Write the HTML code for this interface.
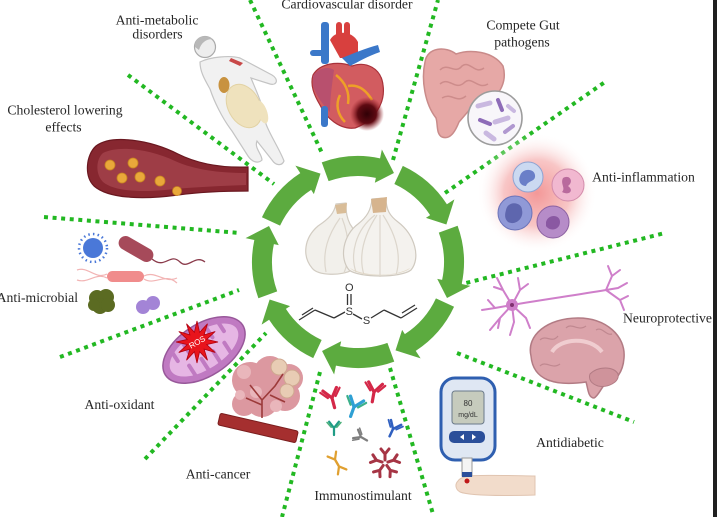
<!DOCTYPE html>
<html><head><meta charset="utf-8"><style>
html,body{margin:0;padding:0;background:#fff;}
svg{display:block;}
text{font-family:"Liberation Serif",serif;}
</style></head><body>
<svg width="717" height="517" viewBox="0 0 717 517" xmlns="http://www.w3.org/2000/svg">
<defs>
 <radialGradient id="glow"><stop offset="0" stop-color="#f39898"/><stop offset="0.55" stop-color="#f8c6c6"/><stop offset="1" stop-color="#ffffff" stop-opacity="0"/></radialGradient>
 <radialGradient id="dark"><stop offset="0" stop-color="#300006"/><stop offset="0.55" stop-color="#5e0a12"/><stop offset="1" stop-color="#9a2028" stop-opacity="0"/></radialGradient>
 <path id="seg" d="M106,0 A106,106 0 0 1 89.89,56.17 L97.5,60.9 L71.34,64.24 L68.7,42.9 L72.93,45.57 A86,86 0 0 0 86,0 Z"/>
</defs>
<rect width="717" height="517" fill="#fff"/>

<!-- dotted radial lines -->
<g stroke="#22b822" stroke-width="4" stroke-dasharray="4 4.6" fill="none">
 <line x1="250" y1="0" x2="322" y2="153"/>
 <line x1="128" y1="75" x2="274" y2="184"/>
 <line x1="44" y1="217" x2="240" y2="233"/>
 <line x1="60" y1="357" x2="239" y2="290"/>
 <line x1="145" y1="459" x2="266" y2="333"/>
 <line x1="320" y1="372" x2="282" y2="517"/>
 <line x1="390" y1="368" x2="433" y2="514"/>
 <line x1="457" y1="353" x2="634" y2="422"/>
 <line x1="458" y1="285" x2="665" y2="233"/>
 <line x1="445" y1="193" x2="605" y2="82"/>
 <line x1="393" y1="160" x2="438" y2="0"/>
</g>

<!-- woman (anti-metabolic) -->
<g>
 <path d="M200,62 C210,57 230,55 240,58 L272,75 C279,79 277,86 270,84 L251,78 C258,95 265,110 266,124 C270,135 280,150 284,161 C282,166 276,166 272,160 L257,141 C254,148 262,154 262,160 C258,164 252,162 248,156 L232,131 C222,118 214,101 210,89 C205,80 200,72 200,62 Z" fill="#f1f1f1" stroke="#c4c4c4" stroke-width="1.2"/>
 <ellipse cx="244" cy="106" rx="16" ry="23" transform="rotate(-28 244 106)" fill="#efe2bd" stroke="#e2d2a4"/>
 <ellipse cx="262" cy="112" rx="5" ry="12" transform="rotate(-20 262 112)" fill="#efe2bd"/>
 <ellipse cx="224" cy="85" rx="5.5" ry="8" fill="#c8923f"/>
 <path d="M231,58 L243,63 L240,66 L229,61 Z" fill="#c84848"/>
 <circle cx="205" cy="47" r="10.5" fill="#ededed" stroke="#aaa" stroke-width="1.2"/>
 <path d="M195,47 C194,36 206,33 214,40 C210,38 202,40 199,50 Z" fill="#b8b8b8"/>
</g>

<!-- heart -->
<g>
 <rect x="321" y="22" width="8" height="42" rx="3" fill="#3b78c9"/>
 <rect x="310" y="50" width="16" height="6" rx="3" fill="#3b78c9"/>
 <rect x="336" y="22" width="6" height="26" rx="3" fill="#d8403e"/>
 <rect x="344" y="22" width="6" height="24" rx="3" fill="#d8403e"/>
 <path d="M330,40 C335,30 352,30 358,42 L358,58 L340,58 Z" fill="#d8403e"/>
 <path d="M313,75 C320,63 338,61 352,66 C366,61 381,68 383,85 C386,105 372,122 355,128 C340,130 326,118 320,105 C314,95 310,85 313,75 Z" fill="#d25c60" stroke="#a8323a" stroke-width="1.2"/>
 <path d="M313,76 C318,68 328,66 334,70 C332,85 330,98 330,112 C322,104 316,95 313,86 Z" fill="#b8506e"/>
 <path d="M342,58 C352,54 366,48 378,45 L380,52 C368,56 358,62 350,66 Z" fill="#3b78c9"/>
 <path d="M336,75 C345,82 350,92 348,104 M348,86 C358,84 366,90 372,100 M340,95 C335,105 338,115 345,122" stroke="#eea028" stroke-width="2.5" fill="none"/>
 <circle cx="367" cy="114" r="17" fill="url(#dark)"/>
 <rect x="321" y="106" width="7" height="21" rx="3" fill="#3b78c9"/>
</g>

<!-- intestine + magnifier -->
<g>
 <path d="M425,62 C427,47 446,46 456,54 C470,49 493,51 503,66 C507,80 501,96 487,100 L471,108 L459,122 C455,132 450,140 442,137 C436,134 438,124 436,118 C425,104 421,80 425,62 Z" fill="#e6a8a6" stroke="#c98b8a" stroke-width="1.5"/>
 <path d="M440,70 C448,62 455,75 462,66 C470,60 475,75 484,68 M440,84 C450,76 455,92 465,82 C472,76 478,90 488,84 M442,98 C452,92 456,104 466,96" stroke="#cd8c8b" stroke-width="1.5" fill="none"/>
 <circle cx="495" cy="118" r="27" fill="#f8f6fa" stroke="#9c9c9c" stroke-width="1.6"/>
 <g stroke-linecap="round" fill="none">
  <line x1="478" y1="106" x2="490" y2="103" stroke="#c9b8e0" stroke-width="5"/>
  <line x1="498" y1="100" x2="502" y2="110" stroke="#8e6cb8" stroke-width="4"/>
  <line x1="480" y1="120" x2="490" y2="124" stroke="#8e6cb8" stroke-width="4"/>
  <line x1="495" y1="122" x2="508" y2="118" stroke="#c9b8e0" stroke-width="5"/>
  <line x1="486" y1="133" x2="494" y2="139" stroke="#c9b8e0" stroke-width="5"/>
  <line x1="505" y1="132" x2="513" y2="126" stroke="#b098d0" stroke-width="4"/>
  <line x1="508" y1="106" x2="514" y2="111" stroke="#c9b8e0" stroke-width="4"/>
 </g>
</g>

<!-- inflammation cells -->
<g>
 <circle cx="537" cy="193" r="60" fill="url(#glow)"/>
 <circle cx="528" cy="177" r="15" fill="#cbd9f1" stroke="#8ea3d2"/>
 <path d="M520,176 C522,168 534,168 535,175 C536,182 528,180 526,186 C520,186 518,180 520,176 Z" fill="#6a7fc8"/>
 <circle cx="568" cy="185" r="16" fill="#f1b8d0" stroke="#d38cab"/>
 <path d="M563,178 C570,174 574,182 568,186 C574,190 570,196 562,192 C566,188 560,184 563,178 Z" fill="#b96a9d"/>
 <circle cx="515" cy="213" r="17" fill="#9099d7" stroke="#6b73b9"/>
 <path d="M506,210 C508,200 522,202 522,210 C524,218 516,226 508,222 C504,218 505,214 506,210 Z" fill="#5e66ae"/>
 <circle cx="553" cy="222" r="16" fill="#b68cc8" stroke="#8b61a1"/>
 <path d="M546,222 C548,214 560,214 560,222 C560,230 550,232 546,226 Z" fill="#8a58a2"/>
</g>

<!-- cholesterol vessel -->
<g>
 <path d="M96,146 C112,134 150,140 178,154 C198,164 222,168 248,167 L248,191 C222,191 200,192 178,195 C148,199 110,200 94,186 C84,176 86,155 96,146 Z" fill="#872730" stroke="#6a1820" stroke-width="1.2"/>
 <path d="M103,153 C118,145 150,149 175,161 C195,170 220,173 246,173 L246,185 C220,186 198,187 175,189 C150,192 116,193 103,182 C95,174 96,159 103,153 Z" fill="#9e3d46"/>
 <g fill="#e9a83a" stroke="#c88420" stroke-width="0.8">
  <circle cx="110" cy="165" r="5"/><circle cx="133" cy="163" r="5"/><circle cx="122" cy="178" r="5"/>
  <circle cx="140" cy="177" r="5"/><circle cx="160" cy="181" r="5"/><circle cx="177" cy="191" r="4.5"/>
 </g>
</g>

<!-- microbes -->
<g>
 <circle cx="93" cy="248" r="10" fill="#4a78d8"/>
 <circle cx="93" cy="248" r="14" fill="none" stroke="#4a78d8" stroke-width="2.5" stroke-dasharray="1.5 3.2"/>
 <g transform="translate(136,249) rotate(30)"><rect x="-19" y="-7" width="38" height="14" rx="7" fill="#a64a5a"/></g>
 <path d="M152,259 C165,270 170,252 180,262 C188,270 195,254 205,262" stroke="#8a3a4a" stroke-width="1.3" fill="none"/>
 <path d="M77,270 C88,266 96,280 107,274 M77,280 C88,284 96,272 107,278 M144,276 C155,270 165,284 177,278 M144,279 C155,286 165,272 177,283" stroke="#f2b4b4" stroke-width="1.2" fill="none"/>
 <rect x="107" y="271" width="37" height="11" rx="5.5" fill="#f08c8c"/>
 <g fill="#5b6b22"><circle cx="97" cy="298" r="8"/><circle cx="106" cy="297" r="8"/><circle cx="100" cy="306" r="8"/><circle cx="108" cy="305" r="7"/><circle cx="94" cy="305" r="6"/></g>
 <circle cx="143" cy="307" r="7" fill="#a384d6"/><circle cx="153" cy="303" r="7" fill="#a384d6"/>
</g>

<!-- mitochondria + ROS -->
<g transform="translate(204,350) rotate(-33)">
 <ellipse rx="46" ry="26" fill="#c07ac2" stroke="#98589a" stroke-width="1.5"/>
 <ellipse rx="39" ry="19" fill="#e6b6e4"/>
 <g stroke="#c07ac2" stroke-width="4" stroke-linecap="round">
  <line x1="-28" y1="-17" x2="-28" y2="-5"/><line x1="-14" y1="-19" x2="-14" y2="-6"/><line x1="0" y1="-19" x2="0" y2="-6"/><line x1="14" y1="-19" x2="14" y2="-6"/><line x1="27" y1="-16" x2="27" y2="-5"/>
  <line x1="-21" y1="17" x2="-21" y2="5"/><line x1="-7" y1="19" x2="-7" y2="6"/><line x1="7" y1="19" x2="7" y2="6"/><line x1="21" y1="17" x2="21" y2="5"/>
 </g>
</g>
<g transform="translate(197,342)">
 <polygon points="21,0 9.7,2.6 18.2,10.5 7.1,7.1 10.5,18.2 2.6,9.7 0,21 -2.6,9.7 -10.5,18.2 -7.1,7.1 -18.2,10.5 -9.7,2.6 -21,0 -9.7,-2.6 -18.2,-10.5 -7.1,-7.1 -10.5,-18.2 -2.6,-9.7 0,-21 2.6,-9.7 10.5,-18.2 7.1,-7.1 18.2,-10.5 9.7,-2.6" fill="#e8141c" stroke="#b00010" stroke-width="0.8"/>
 <text x="0" y="3" font-size="8" fill="#fff" text-anchor="middle" transform="rotate(-30)" style="font-family:'Liberation Sans',sans-serif">ROS</text>
</g>

<!-- tumor -->
<g>
 <g fill="#dc98a0"><circle cx="250" cy="380" r="18"/><circle cx="270" cy="372" r="16"/><circle cx="262" cy="400" r="17"/><circle cx="285" cy="396" r="15"/><circle cx="244" cy="404" r="12"/><circle cx="289" cy="378" r="14"/></g>
 <g fill="#e9b6bb"><circle cx="244" cy="372" r="7"/><circle cx="256" cy="392" r="6"/><circle cx="276" cy="406" r="6"/><circle cx="240" cy="395" r="5"/></g>
 <g fill="#e8ccb4" stroke="#cfa890"><circle cx="279" cy="367" r="8"/><circle cx="292" cy="378" r="8"/><circle cx="287" cy="391" r="7"/></g>
 <path d="M262,418 L262,400 L250,385 M262,400 L275,386 L283,374 M262,405 L246,398 M270,395 L285,402" stroke="#9c3a3a" stroke-width="1.6" fill="none"/>
 <g transform="translate(258,428) rotate(13)"><rect x="-40" y="-6" width="80" height="12" rx="2" fill="#a52f2f" stroke="#7a1e1e"/></g>
</g>

<!-- antibodies -->
<g stroke-linecap="round" fill="none">
 <g transform="translate(332,398) rotate(-15)" stroke="#d42848"><path d="M0,10 L0,0 L-7,-9 M0,0 L7,-9" stroke-width="3.2"/><path d="M-4,-1 L-10,-8 M4,-1 L10,-8" stroke-width="2.2"/></g>
 <g transform="translate(354,407) rotate(20)" stroke="#2fa0d4"><path d="M0,10 L0,0 L-7,-9 M0,0 L7,-9" stroke-width="3.2"/><path d="M-4,-1 L-10,-8 M4,-1 L10,-8" stroke="#3cb08a" stroke-width="2.2"/></g>
 <g transform="translate(374,392) rotate(10)" stroke="#d42848"><path d="M0,10 L0,0 L-7,-9 M0,0 L7,-9" stroke-width="3.2"/><path d="M-4,-1 L-10,-8 M4,-1 L10,-8" stroke-width="2.2"/></g>
 <g transform="translate(334,428) scale(0.7)" stroke="#1f9c86"><path d="M0,10 L0,0 L-7,-9 M0,0 L7,-9" stroke-width="3.2"/><path d="M-4,-1 L-10,-8 M4,-1 L10,-8" stroke="#4bb07a" stroke-width="2.2"/></g>
 <g transform="translate(361,437) rotate(-60) scale(0.7)" stroke="#7e7e7e"><path d="M0,10 L0,0 L-7,-9 M0,0 L7,-9" stroke-width="3.2"/><path d="M-4,-1 L-10,-8 M4,-1 L10,-8" stroke-width="2.2"/></g>
 <g transform="translate(393,429) rotate(25) scale(0.8)" stroke="#3060c0"><path d="M0,10 L0,0 L-7,-9 M0,0 L7,-9" stroke-width="3.2"/><path d="M-4,-1 L-10,-8 M4,-1 L10,-8" stroke-width="2.2"/></g>
 <g transform="translate(337,463)" stroke="#e0a030">
  <g transform="rotate(-30) translate(0,-4) scale(0.7)"><path d="M0,10 L0,0 L-7,-9 M0,0 L7,-9" stroke-width="3.2"/></g>
  <g transform="rotate(150) translate(0,-4) scale(0.7)"><path d="M0,10 L0,0 L-7,-9 M0,0 L7,-9" stroke-width="3.2"/></g>
 </g>
 <g transform="translate(385,463)" stroke="#a63545" stroke-width="3">
  <g transform="rotate(0)"><path d="M0,-3 L0,-9 L-4,-14 M0,-9 L4,-14"/></g>
  <g transform="rotate(72)"><path d="M0,-3 L0,-9 L-4,-14 M0,-9 L4,-14"/></g>
  <g transform="rotate(144)"><path d="M0,-3 L0,-9 L-4,-14 M0,-9 L4,-14"/></g>
  <g transform="rotate(216)"><path d="M0,-3 L0,-9 L-4,-14 M0,-9 L4,-14"/></g>
  <g transform="rotate(288)"><path d="M0,-3 L0,-9 L-4,-14 M0,-9 L4,-14"/></g>
 </g>
</g>

<!-- glucometer -->
<g>
 <rect x="441" y="378" width="54" height="82" rx="14" fill="#dfe7f3" stroke="#2f5fb0" stroke-width="3"/>
 <rect x="452" y="391" width="32" height="33" rx="3" fill="#c6cbbd" stroke="#6a7a8a"/>
 <text x="468" y="406" font-size="8" text-anchor="middle" fill="#333" style="font-family:'Liberation Sans',sans-serif">80</text>
 <text x="468" y="417" font-size="7" text-anchor="middle" fill="#333" style="font-family:'Liberation Sans',sans-serif">mg/dL</text>
 <rect x="449" y="431" width="36" height="12" rx="5" fill="#2b4f9a"/>
 <polygon points="460,437 464,434 464,440" fill="#fff"/><polygon points="476,437 472,434 472,440" fill="#fff"/>
 <path d="M458,481 C462,474 480,475 535,476 L535,495 C500,496 470,496 460,492 C455,489 455,484 458,481 Z" fill="#f2dccb" stroke="#e0c4b0"/>
 <rect x="462" y="458" width="10" height="18" fill="#f4f4f4" stroke="#999"/>
 <rect x="462" y="472" width="10" height="5" fill="#2b4f9a"/>
 <circle cx="467" cy="481" r="2.5" fill="#c01818"/>
</g>

<!-- neuron -->
<g stroke="#cf7fca" stroke-width="2" fill="none" stroke-linecap="round">
 <path d="M512,305 C540,300 570,296 606,290"/>
 <path d="M606,290 L612,276 L608,266 M612,276 L620,270 M606,290 L620,300 L624,310 M620,300 L628,296 M606,290 L618,288 L627,283"/>
 <path d="M512,305 L503,290 L497,278 M503,290 L494,287 M512,305 L520,290 L518,278 M520,290 L528,284 M512,305 L495,308 L482,310 M495,308 L488,300 M512,305 L500,318 L490,330 M500,318 L498,328 M512,305 L514,322 L510,335 M512,305 L526,318 L530,328"/>
</g>
<circle cx="512" cy="305" r="6" fill="#cf7fca"/><circle cx="512" cy="305" r="2" fill="#803070"/>

<!-- brain -->
<g>
 <path d="M531,356 C526,335 548,318 578,318 C606,318 626,336 624,358 C623,372 616,382 605,384 C600,390 598,396 594,398 C588,398 588,388 586,382 C572,384 558,384 548,380 C538,376 532,368 531,356 Z" fill="#dba3aa" stroke="#b27b84" stroke-width="1.5"/>
 <path d="M590,374 C598,366 614,366 618,374 C620,382 608,388 598,386 C592,384 588,380 590,374 Z" fill="#cf939b" stroke="#b27b84"/>
 <path d="M552,352 C560,338 590,336 602,352" stroke="#f0cdd0" stroke-width="4" fill="none"/>
 <path d="M540,340 C546,334 552,344 558,336 M566,328 C572,322 578,332 586,326 M596,330 C602,326 606,336 612,334 M540,366 C546,360 552,370 560,364" stroke="#c08890" stroke-width="1.2" fill="none"/>
</g>

<!-- garlic -->
<g>
 <path d="M336,204 L346,203 C346,213 347,218 350,224 C360,238 362,258 352,270 C342,276 318,276 312,268 C302,256 304,238 318,226 C330,218 334,213 336,204 Z" fill="#f2f0eb" stroke="#d2ccc2" stroke-width="1.2"/>
 <path d="M340,218 C328,235 322,252 326,272 M342,218 C350,238 350,258 344,273" stroke="#dcd6cc" stroke-width="1.2" fill="none"/>
 <path d="M335,205 L347,203 L346,213 L337,214 Z" fill="#d9bd98"/>
 <path d="M372,199 L386,198 C386,210 390,216 398,222 C415,235 421,258 411,270 C401,278 359,278 349,270 C339,258 343,235 358,224 C367,217 371,210 372,199 Z" fill="#f4f2ee" stroke="#cfc9bf" stroke-width="1.2"/>
 <path d="M377,215 C364,235 358,255 364,275 M380,215 C380,240 380,260 380,277 M383,215 C396,235 402,255 396,275 M375,215 C355,230 350,255 356,272" stroke="#dcd6cc" stroke-width="1.2" fill="none"/>
 <path d="M371,199 L387,197 L386,212 L373,213 Z" fill="#d6b48e"/>
 <path d="M350,268 C365,277 396,277 410,268 C404,276 360,279 350,268 Z" fill="#e0d6c4"/>
</g>

<!-- chemical structure -->
<g stroke="#333" stroke-width="1.3" fill="none">
 <line x1="299" y1="320" x2="315" y2="310"/><line x1="302" y1="315" x2="313" y2="308"/>
 <line x1="315" y1="310" x2="334" y2="318"/>
 <line x1="334" y1="318" x2="345" y2="312"/>
 <line x1="347.5" y1="294" x2="347.5" y2="305"/><line x1="351" y1="294" x2="351" y2="305"/>
 <line x1="353" y1="314" x2="362" y2="319"/>
 <line x1="371" y1="318" x2="384" y2="310"/>
 <line x1="384" y1="310" x2="401" y2="318"/>
 <line x1="401" y1="318" x2="417" y2="308"/><line x1="402" y1="313" x2="415" y2="305"/>
</g>
<g fill="#333" font-size="11" text-anchor="middle">
 <text x="349.3" y="291" style="font-family:'Liberation Sans',sans-serif">O</text>
 <text x="349.3" y="315" style="font-family:'Liberation Sans',sans-serif">S</text>
 <text x="366.5" y="324" style="font-family:'Liberation Sans',sans-serif">S</text>
</g>

<!-- ring of arrows -->
<g transform="translate(358,262)" fill="#5cab3f">
 <use href="#seg" transform="rotate(-110)"/>
 <use href="#seg" transform="rotate(-65)"/>
 <use href="#seg" transform="rotate(-20)"/>
 <use href="#seg" transform="rotate(25)"/>
 <use href="#seg" transform="rotate(70)"/>
 <use href="#seg" transform="rotate(115)"/>
 <use href="#seg" transform="rotate(160)"/>
 <use href="#seg" transform="rotate(205)"/>
</g>

<!-- labels -->
<g font-size="13.7" fill="#262626" text-anchor="middle">
 <text x="347" y="8.5">Cardiovascular disorder</text>
 <text x="157" y="24.5">Anti-metabolic</text>
 <text x="157.5" y="38.3">disorders</text>
 <text x="523" y="29.5">Compete Gut</text>
 <text x="522" y="46.5">pathogens</text>
 <text x="65" y="114.6">Cholesterol lowering</text>
 <text x="63.5" y="131.5">effects</text>
 <text x="643.5" y="181.5">Anti-inflammation</text>
 <text x="78" y="302" text-anchor="end">Anti-microbial</text>
 <text x="667.5" y="322.5">Neuroprotective</text>
 <text x="119.5" y="409">Anti-oxidant</text>
 <text x="570" y="447">Antidiabetic</text>
 <text x="218" y="478.5">Anti-cancer</text>
 <text x="363" y="500">Immunostimulant</text>
</g>

<rect x="713" y="0" width="4" height="517" fill="#1f1f1f"/>
</svg>
</body></html>
